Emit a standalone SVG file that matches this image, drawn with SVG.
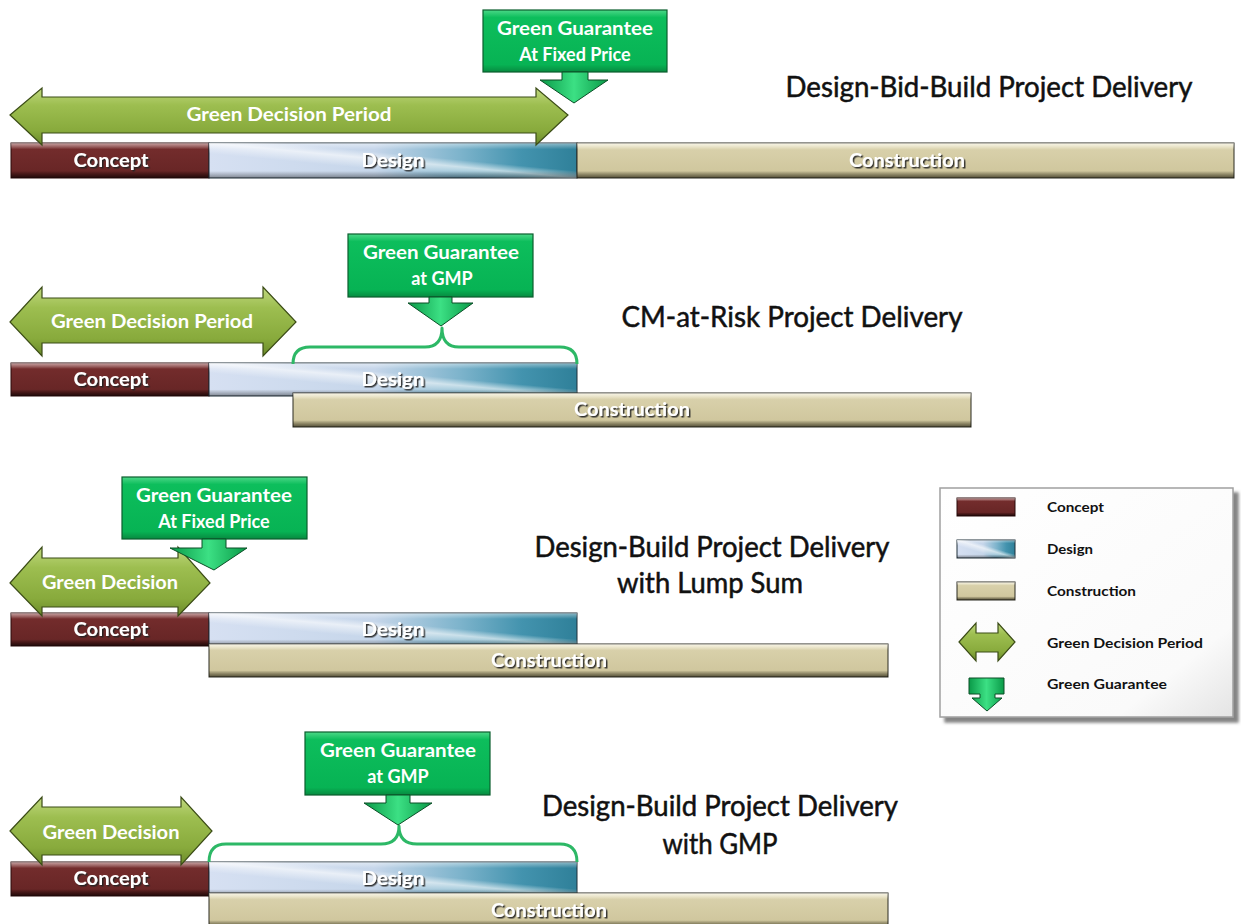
<svg xmlns="http://www.w3.org/2000/svg" width="1241" height="924" viewBox="0 0 1241 924">
<defs>
<linearGradient id="gConcept" x1="0" y1="0" x2="0" y2="1">
<stop offset="0" stop-color="#9A5656"/><stop offset="0.18" stop-color="#732C2C"/><stop offset="0.8" stop-color="#682626"/><stop offset="1" stop-color="#3A1010"/>
</linearGradient>
<linearGradient id="gConstr" x1="0" y1="0" x2="0" y2="1">
<stop offset="0" stop-color="#F2EDD2"/><stop offset="0.2" stop-color="#D8D0AA"/><stop offset="0.8" stop-color="#D0C79E"/><stop offset="1" stop-color="#8E865F"/>
</linearGradient>
<linearGradient id="gDesign" x1="0" y1="0" x2="1" y2="0">
<stop offset="0" stop-color="#D6E0F2"/><stop offset="0.45" stop-color="#C6D6EA"/><stop offset="0.68" stop-color="#7EB4CC"/><stop offset="0.85" stop-color="#4393AE"/><stop offset="1" stop-color="#2F8099"/>
</linearGradient>
<linearGradient id="gStreak" x1="0" y1="1" x2="1" y2="0">
<stop offset="0.35" stop-color="#FFFFFF" stop-opacity="0"/><stop offset="0.5" stop-color="#FFFFFF" stop-opacity="0.6"/><stop offset="0.6" stop-color="#FFFFFF" stop-opacity="0"/>
</linearGradient>
<linearGradient id="gBevel" x1="0" y1="0" x2="0" y2="1">
<stop offset="0" stop-color="#FFFFFF" stop-opacity="0.45"/><stop offset="0.18" stop-color="#FFFFFF" stop-opacity="0"/><stop offset="0.8" stop-color="#000000" stop-opacity="0"/><stop offset="1" stop-color="#000000" stop-opacity="0.4"/>
</linearGradient>
<linearGradient id="gArrow" x1="0" y1="0" x2="0" y2="1">
<stop offset="0" stop-color="#C0D87E"/><stop offset="0.3" stop-color="#9DBE50"/><stop offset="0.75" stop-color="#88AA3C"/><stop offset="1" stop-color="#6A8A2A"/>
</linearGradient>
<linearGradient id="gBox" x1="0" y1="0" x2="0" y2="1">
<stop offset="0" stop-color="#4CD888"/><stop offset="0.12" stop-color="#0DBE5C"/><stop offset="0.88" stop-color="#07B354"/><stop offset="1" stop-color="#078A40"/>
</linearGradient>
<linearGradient id="gDown" x1="0" y1="0" x2="1" y2="0">
<stop offset="0" stop-color="#0A9A48"/><stop offset="0.5" stop-color="#3CE084"/><stop offset="1" stop-color="#0A9A48"/>
</linearGradient>
<linearGradient id="gLegend" x1="0" y1="0" x2="1" y2="1">
<stop offset="0" stop-color="#FFFFFF"/><stop offset="0.8" stop-color="#FAFAFA"/><stop offset="1" stop-color="#E4E4E4"/>
</linearGradient>
<filter id="tshadow" x="-10%" y="-30%" width="130%" height="170%">
<feDropShadow dx="1.5" dy="1.5" stdDeviation="0.6" flood-color="#222222" flood-opacity="0.9"/>
</filter>
<filter id="lshadow" x="-5%" y="-5%" width="115%" height="115%">
<feDropShadow dx="5" dy="5" stdDeviation="1.5" flood-color="#666666" flood-opacity="0.8"/>
</filter>
</defs>
<style>
.concept{fill:url(#gConcept);stroke:#2A0A0A;stroke-width:1}
.constr{fill:url(#gConstr);stroke:#2B2A20;stroke-width:1}
.design{fill:url(#gDesign);stroke:#1E2E38;stroke-width:1}
.streak{fill:url(#gStreak)}
.bevel{fill:url(#gBevel)}
.barlbl{font-family:Lato,"Liberation Sans",sans-serif;font-weight:bold;font-size:18px;fill:#FFFFFF;text-anchor:middle;filter:url(#tshadow)}
.gdp{fill:url(#gArrow);stroke:#3B4C16;stroke-width:1.2}
.gdptxt{font-family:Lato,"Liberation Sans",sans-serif;font-weight:bold;font-size:19px;fill:#FFFFFF;text-anchor:middle}
.gbox{fill:url(#gBox);stroke:#0B5E2E;stroke-width:1.2}
.gboxtxt{font-family:Lato,"Liberation Sans",sans-serif;font-weight:bold;font-size:18px;fill:#FFFFFF;text-anchor:middle}
.down{fill:url(#gDown);stroke:#0A4E26;stroke-width:1}
.brace{fill:none;stroke:#2DB866;stroke-width:3;stroke-linejoin:round}
.title{font-family:Lato,"Liberation Sans",sans-serif;font-size:28px;fill:#111111;stroke:#111111;stroke-width:0.5;text-anchor:middle}
.legtxt{font-family:Lato,"Liberation Sans",sans-serif;font-weight:bold;font-size:14px;fill:#111111}
</style>

<!-- Row 1: Design-Bid-Build -->
<g id="r1-concept"><rect class="concept" x="11" y="143" width="198" height="35"/><rect class="bevel" x="11" y="143" width="198" height="35"/><text class="barlbl" x="111" y="167" textLength="75" lengthAdjust="spacingAndGlyphs">Concept</text></g>
<g id="r1-design"><rect class="design" x="209" y="143" width="368" height="35"/><rect class="streak" x="209" y="143" width="368" height="35"/><rect class="bevel" x="209" y="143" width="368" height="35"/><text class="barlbl" x="393" y="167" textLength="63" lengthAdjust="spacingAndGlyphs">Design</text></g>
<g id="r1-construction"><rect class="constr" x="577" y="143" width="657" height="35"/><rect class="bevel" x="577" y="143" width="657" height="35"/><text class="barlbl" x="907" y="167" textLength="116" lengthAdjust="spacingAndGlyphs">Construction</text></g>
<g id="r1-decision"><polygon class="gdp" points="10,115 42,88 42,97 536,97 536,88 568,115 536,145 536,133 42,133 42,145"/><text class="gdptxt" x="289" y="121" textLength="205" lengthAdjust="spacingAndGlyphs">Green Decision Period</text></g>
<g id="r1-guarantee"><rect class="gbox" x="483" y="10" width="184" height="62"/><text class="gboxtxt" x="575" y="35" textLength="156" lengthAdjust="spacingAndGlyphs">Green Guarantee</text><text class="gboxtxt" x="575" y="61">At Fixed Price</text></g>
<g id="r1-title"><text class="title" x="989" y="97" textLength="407" lengthAdjust="spacingAndGlyphs">Design-Bid-Build Project Delivery</text></g>

<!-- Row 2: CM-at-Risk -->
<g id="r2-concept"><rect class="concept" x="11" y="363" width="198" height="33"/><rect class="bevel" x="11" y="363" width="198" height="33"/><text class="barlbl" x="111" y="386" textLength="75" lengthAdjust="spacingAndGlyphs">Concept</text></g>
<g id="r2-design"><rect class="design" x="209" y="363" width="368" height="33"/><rect class="streak" x="209" y="363" width="368" height="33"/><rect class="bevel" x="209" y="363" width="368" height="33"/><text class="barlbl" x="393" y="386" textLength="63" lengthAdjust="spacingAndGlyphs">Design</text></g>
<g id="r2-construction"><rect class="constr" x="293" y="393" width="678" height="34"/><rect class="bevel" x="293" y="393" width="678" height="34"/><text class="barlbl" x="632" y="416" textLength="116" lengthAdjust="spacingAndGlyphs">Construction</text></g>
<g id="r2-decision"><polygon class="gdp" points="10,322 42,287 42,298 263,298 263,287 296,322 263,356 263,343 42,343 42,356"/><text class="gdptxt" x="152" y="328" textLength="202" lengthAdjust="spacingAndGlyphs">Green Decision Period</text></g>
<g id="r2-guarantee"><rect class="gbox" x="348" y="234" width="185" height="63"/><text class="gboxtxt" x="441" y="259" textLength="156" lengthAdjust="spacingAndGlyphs">Green Guarantee</text><text class="gboxtxt" x="442" y="285">at GMP</text></g>
<g id="r2-title"><text class="title" x="792" y="327" textLength="341" lengthAdjust="spacingAndGlyphs">CM-at-Risk Project Delivery</text></g>

<!-- Row 3: Design-Build Lump Sum -->
<g id="r3-concept"><rect class="concept" x="11" y="613" width="198" height="33"/><rect class="bevel" x="11" y="613" width="198" height="33"/><text class="barlbl" x="111" y="636" textLength="75" lengthAdjust="spacingAndGlyphs">Concept</text></g>
<g id="r3-design"><rect class="design" x="209" y="613" width="368" height="33"/><rect class="streak" x="209" y="613" width="368" height="33"/><rect class="bevel" x="209" y="613" width="368" height="33"/><text class="barlbl" x="393" y="636" textLength="63" lengthAdjust="spacingAndGlyphs">Design</text></g>
<g id="r3-construction"><rect class="constr" x="209" y="644" width="679" height="33"/><rect class="bevel" x="209" y="644" width="679" height="33"/><text class="barlbl" x="549" y="667" textLength="116" lengthAdjust="spacingAndGlyphs">Construction</text></g>
<g id="r3-decision"><polygon class="gdp" points="10,583 42,547 42,558 178,558 178,547 210,583 178,616 178,607 42,607 42,616"/><text class="gdptxt" x="110" y="589" textLength="136" lengthAdjust="spacingAndGlyphs">Green Decision</text></g>
<g id="r3-guarantee"><rect class="gbox" x="122" y="477" width="185" height="62"/><text class="gboxtxt" x="214" y="502" textLength="156" lengthAdjust="spacingAndGlyphs">Green Guarantee</text><text class="gboxtxt" x="214" y="528">At Fixed Price</text></g>
<g id="r3-title"><text class="title" x="712" y="557" textLength="355" lengthAdjust="spacingAndGlyphs">Design-Build Project Delivery</text><text class="title" x="710" y="593" textLength="186" lengthAdjust="spacingAndGlyphs">with Lump Sum</text></g>

<!-- Row 4: Design-Build GMP -->
<g id="r4-concept"><rect class="concept" x="11" y="862" width="198" height="34"/><rect class="bevel" x="11" y="862" width="198" height="34"/><text class="barlbl" x="111" y="885" textLength="75" lengthAdjust="spacingAndGlyphs">Concept</text></g>
<g id="r4-design"><rect class="design" x="209" y="862" width="368" height="34"/><rect class="streak" x="209" y="862" width="368" height="34"/><rect class="bevel" x="209" y="862" width="368" height="34"/><text class="barlbl" x="393" y="885" textLength="63" lengthAdjust="spacingAndGlyphs">Design</text></g>
<g id="r4-construction"><rect class="constr" x="209" y="893" width="679" height="34"/><rect class="bevel" x="209" y="893" width="679" height="34"/><text class="barlbl" x="549" y="917" textLength="116" lengthAdjust="spacingAndGlyphs">Construction</text></g>
<g id="r4-decision"><polygon class="gdp" points="10,831 42,797 42,807 181,807 181,797 212,831 181,865 181,855 42,855 42,865"/><text class="gdptxt" x="111" y="839" textLength="137" lengthAdjust="spacingAndGlyphs">Green Decision</text></g>
<g id="r4-guarantee"><rect class="gbox" x="305" y="732" width="185" height="63"/><text class="gboxtxt" x="398" y="757" textLength="156" lengthAdjust="spacingAndGlyphs">Green Guarantee</text><text class="gboxtxt" x="398" y="783">at GMP</text></g>
<g id="r4-title"><text class="title" x="720" y="816" textLength="356" lengthAdjust="spacingAndGlyphs">Design-Build Project Delivery</text><text class="title" x="720" y="854" textLength="115" lengthAdjust="spacingAndGlyphs">with GMP</text></g>

<!-- Connectors: guarantee pointers and braces -->
<g id="connectors">
<polygon class="down" points="562,72 588,72 588,80 608,80 574,103 540,80 562,80"/>
<path class="brace" d="M293,364 Q293,347 310,347 L425,347 Q442,347 442,328 Q442,347 459,347 L560,347 Q577,347 577,364"/>
<polygon class="down" points="429,297 452,297 452,303 473,303 441,326 408,303 429,303"/>
<polygon class="down" points="202,539 226,539 226,548 247,548 214,570 170,548 202,548"/>
<path class="brace" d="M209,862 Q209,844 226,844 L381,844 Q399,844 399,826 Q399,844 417,844 L560,844 Q577,844 577,862"/>
<polygon class="down" points="386,795 410,795 410,803 432,803 398,825 364,803 386,803"/>
</g>

<!-- Legend -->
<g id="legend">
<rect x="940" y="488" width="293" height="229" fill="url(#gLegend)" stroke="#A0A0A0" stroke-width="1.5" filter="url(#lshadow)"/>
<g id="leg-concept"><rect class="concept" x="957" y="498" width="58" height="18"/><rect class="bevel" x="957" y="498" width="58" height="18"/><text class="legtxt" x="1047" y="512" textLength="57" lengthAdjust="spacingAndGlyphs">Concept</text></g>
<g id="leg-design"><rect class="design" x="957" y="540" width="58" height="18"/><rect class="streak" x="957" y="540" width="58" height="18"/><rect class="bevel" x="957" y="540" width="58" height="18"/><text class="legtxt" x="1047" y="554" textLength="46" lengthAdjust="spacingAndGlyphs">Design</text></g>
<g id="leg-construction"><rect class="constr" x="957" y="582" width="58" height="18"/><rect class="bevel" x="957" y="582" width="58" height="18"/><text class="legtxt" x="1047" y="596" textLength="89" lengthAdjust="spacingAndGlyphs">Construction</text></g>
<g id="leg-decision"><polygon class="gdp" points="959,642 976,623 976,633 998,633 998,623 1015,642 998,661 998,652 976,652 976,661"/><text class="legtxt" x="1047" y="648" textLength="156" lengthAdjust="spacingAndGlyphs">Green Decision Period</text></g>
<g id="leg-guarantee"><polygon class="down" points="969,678 1004,678 1004,694 995,694 995,698 1002,698 987,711 972,698 980,698 980,694 969,694"/><text class="legtxt" x="1047" y="689" textLength="120" lengthAdjust="spacingAndGlyphs">Green Guarantee</text></g>
</g>
</svg>
